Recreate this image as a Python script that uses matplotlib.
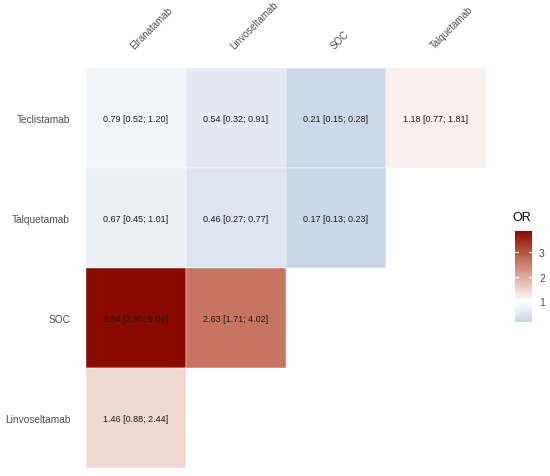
import matplotlib
matplotlib.use("Agg")
import matplotlib.pyplot as plt
import numpy as np
from matplotlib.colors import LinearSegmentedColormap, Normalize

plt.rcParams['font.family'] = ['Liberation Sans', 'DejaVu Sans']

row_names = ["Teclistamab", "Talquetamab", "SOC", "Linvoseltamab"]
col_names = ["Elranatamab", "Linvoseltamab", "SOC", "Talquetamab"]

# odds ratios, lower and upper CI (nan = empty cell)
OR = np.array([
    [0.79, 0.54, 0.21, 1.18],
    [0.67, 0.46, 0.17, np.nan],
    [3.84, 2.63, np.nan, np.nan],
    [1.46, np.nan, np.nan, np.nan],
])
lower = np.array([
    [0.52, 0.32, 0.15, 0.77],
    [0.45, 0.27, 0.13, np.nan],
    [2.90, 1.71, np.nan, np.nan],
    [0.88, np.nan, np.nan, np.nan],
])
upper = np.array([
    [1.20, 0.91, 0.28, 1.81],
    [1.01, 0.77, 0.23, np.nan],
    [5.09, 4.02, np.nan, np.nan],
    [2.44, np.nan, np.nan, np.nan],
])

# diverging scale around 1, symmetric like ggplot's gradient2
mid = 1.0
vmax = np.nanmax(OR)
vmin_data = np.nanmin(OR)
span = vmax - mid
norm = Normalize(vmin=mid - span, vmax=vmax)
cmap = LinearSegmentedColormap.from_list("or", [
    (0.0, "#3f6fae"),
    (0.354, "#cad7e8"),
    (0.5, "#ffffff"),
    (0.787, "#c87563"),
    (1.0, "#8b0a00"),
])

W, H = 550, 477
fig = plt.figure(figsize=(W / 100, H / 100), dpi=100)
ax = fig.add_axes([86 / W, 1 - 469 / H, 400 / W, 400 / H])

nr, nc = OR.shape
for i in range(nr):
    for j in range(nc):
        v = OR[i, j]
        if np.isnan(v):
            continue
        ax.add_patch(plt.Rectangle((j, nr - 1 - i), 1, 1, facecolor=cmap(norm(v)),
                                   edgecolor="white", linewidth=0.3))
        ax.text(j + 0.5, nr - 1 - i + 0.5, f"{v:.2f} [{lower[i, j]:.2f}; {upper[i, j]:.2f}]",
                ha="center", va="center", fontsize=6.5, color="#1a1a1a")

ax.set_xlim(0, nc)
ax.set_ylim(0, nr)
ax.set_xticks(np.arange(nc) + 0.5)
ax.set_yticks(np.arange(nr) + 0.5)
ax.set_yticklabels(row_names[::-1], fontsize=7.3, color="#4d4d4d")
ax.xaxis.tick_top()
ax.set_xticklabels(col_names, fontsize=7, color="#4d4d4d", rotation=45,
                   ha="left", va="bottom", rotation_mode="anchor")
ax.tick_params(length=0, pad=13, axis="x")
ax.tick_params(length=0, pad=11.5, axis="y")
for s in ax.spines.values():
    s.set_visible(False)

# colorbar
cax = fig.add_axes([515 / W, 1 - 323 / H, 17 / W, 91 / H])
grad = np.linspace(vmin_data, vmax, 200).reshape(-1, 1)
cax.imshow(grad, aspect="auto", origin="lower", cmap=cmap, norm=norm,
           extent=[0, 1, vmin_data, vmax])
cax.set_xlim(0, 1)
cax.set_ylim(vmin_data, vmax)
cax.set_xticks([])
cax.yaxis.tick_right()
cax.set_yticks([1, 2, 3])
cax.set_yticklabels(["1", "2", "3"], fontsize=7.5, color="#4d4d4d")
cax.tick_params(length=0, pad=5)
for t in [1, 2, 3]:
    cax.plot([0, 0.2], [t, t], color="white", lw=0.8)
    cax.plot([0.8, 1], [t, t], color="white", lw=0.8)
for s in cax.spines.values():
    s.set_visible(False)
fig.text(512 / W, 1 - 218 / H, "OR", fontsize=9, color="black", va="center")

fig.savefig("out.png", dpi=100)
